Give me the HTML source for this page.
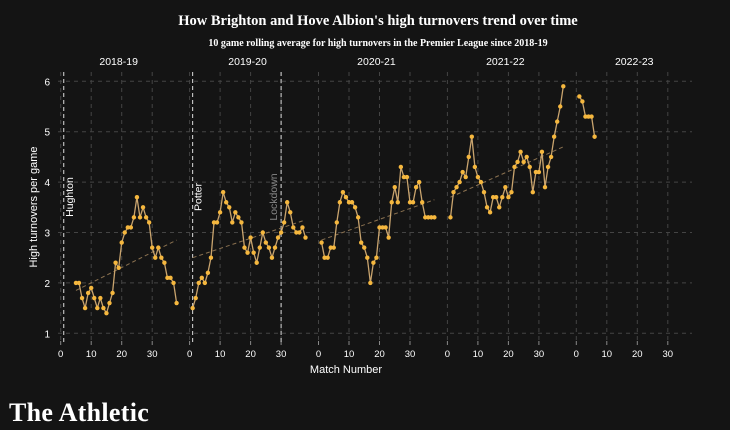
<!DOCTYPE html>
<html><head><meta charset="utf-8">
<style>
html,body{margin:0;padding:0;background:#141414;}
svg{display:block;font-family:"Liberation Sans",sans-serif;}
</style></head>
<body>
<svg id="chart" width="730" height="430" viewBox="0 0 730 430">
<rect width="730" height="430" fill="#141414"/>
<text x="378" y="25" text-anchor="middle" fill="#fff" font-family="Liberation Serif,serif" font-weight="bold" font-size="14.5">How Brighton and Hove Albion's high turnovers trend over time</text>
<text x="378" y="46" text-anchor="middle" fill="#fff" font-family="Liberation Serif,serif" font-weight="bold" font-size="10">10 game rolling average for high turnovers in the Premier League since 2018-19</text>
<text x="37" y="207" transform="rotate(-90 37 207)" text-anchor="middle" fill="#fff" font-size="11">High turnovers per game</text>
<text x="346" y="373" text-anchor="middle" fill="#fff" font-size="11">Match Number</text>
<text x="9" y="421" fill="#fff" font-family="Liberation Serif,serif" font-weight="bold" font-size="26" letter-spacing="0.3">The Athletic</text>
<g id="plot"></g>
</svg>
<script>
const seasons = ["2018-19","2019-20","2020-21","2021-22","2022-23"];
const startMatch = [5, 1, 1, 1, 1];
const s1 = [2.0,2.0,1.7,1.5,1.8,1.9,1.7,1.5,1.7,1.5,1.4,1.6,1.8,2.4,2.3,2.8,3.0,3.1,3.1,3.3,3.7,3.3,3.5,3.3,3.2,2.7,2.5,2.7,2.5,2.4,2.1,2.1,2.0,1.6];
const s2 = [1.5,1.7,2.0,2.1,2.0,2.2,2.5,3.2,3.2,3.4,3.8,3.6,3.5,3.2,3.4,3.3,3.2,2.7,2.6,2.9,2.6,2.4,2.7,3.0,2.8,2.7,2.5,2.7,2.9,3.0,3.2,3.6,3.4,3.1,3.0,3.0,3.1,2.9];
const s3 = [2.8,2.5,2.5,2.7,2.7,3.2,3.6,3.8,3.7,3.6,3.6,3.5,3.3,2.8,2.7,2.5,2.0,2.4,2.5,3.1,3.1,3.1,2.9,3.6,3.9,3.6,4.3,4.1,4.1,3.6,3.6,3.9,4.0,3.6,3.3,3.3,3.3,3.3];
const s4 = [3.3,3.8,3.9,4.0,4.2,4.1,4.5,4.9,4.3,4.1,4.0,3.8,3.5,3.4,3.7,3.7,3.5,3.7,3.9,3.7,3.8,4.3,4.4,4.6,4.4,4.5,4.3,3.8,4.2,4.2,4.6,3.9,4.3,4.5,4.9,5.2,5.5,5.9];
const s5 = [5.7,5.6,5.3,5.3,5.3,4.9];
const trendStart = [1.85, 2.5, 2.85, 3.7];
const trendEnd = [2.85, 3.25, 3.65, 4.7];
const yTicks = [1,2,3,4,5,6];
const xTicks = [0,10,20,30];
const markers = [{season:0, match:1, label:"Hughton"},{season:1, match:1, label:"Potter"},{season:1, match:30, label:"Lockdown"}];

const series = [s1,s2,s3,s4,s5];
const NS = "http://www.w3.org/2000/svg";
const g = document.getElementById("plot");
const panelX0 = 60.7, panelW = 128.9, pxPerMatch = 3.05;
const x = (p, m) => panelX0 + p*panelW + m*pxPerMatch;
const y = v => 333.3 - (v-1)*50.4;
function mk(tag, attrs){const e=document.createElementNS(NS,tag);for(const k in attrs)e.setAttribute(k,attrs[k]);g.appendChild(e);return e;}

yTicks.forEach(v=>{
  const l=mk("line",{x1:58,x2:692,y1:y(v),y2:y(v),stroke:"#444","stroke-dasharray":"4 4","stroke-width":1});
  
  
  const t=mk("text",{x:50,y:y(v)+4,"text-anchor":"end",fill:"#fff","font-size":10});
  t.textContent=v;
  
  
});
seasons.forEach((s,p)=>{
  const st=mk("text",{x:x(p,19),y:65,"text-anchor":"middle",fill:"#fff","font-size":10.5});
  st.textContent=s;
  
  
  xTicks.forEach(m=>{
    const l=mk("line",{x1:x(p,m),x2:x(p,m),y1:72,y2:344,stroke:"#444","stroke-dasharray":"4 4","stroke-width":1});
    
    
    const tk=mk("line",{x1:x(p,m),x2:x(p,m),y1:341,y2:345,stroke:"#888"});
    
    
    const t=mk("text",{x:x(p,m),y:357,"text-anchor":"middle",fill:"#fff","font-size":9.5});
    t.textContent=m;
    
    
  });
});
markers.forEach(mr=>{
  const mx=x(mr.season,mr.match);
  const grey=mr.label==="Lockdown";
  const l=mk("line",{x1:mx,x2:mx,y1:72,y2:344,stroke:"#ddd","stroke-dasharray":"4 3","stroke-width":1});
  
  
  const tx=grey?mx-4:mx+9;
  const t=mk("text",{x:tx,y:197,transform:`rotate(-90 ${tx} 197)`,"text-anchor":"middle",fill:grey?"#888":"#fff","font-size":10.5});
  t.textContent=mr.label;
  
  
});
trendStart.forEach((v,p)=>{
  const n=series[p].length, m0=startMatch[p], m1=m0+n-1;
  const l=mk("line",{x1:x(p,m0),y1:y(v),x2:x(p,m1),y2:y(trendEnd[p]),stroke:"#8a7150","stroke-dasharray":"4 3","stroke-width":1});
  
  
});
series.forEach((d,p)=>{
  const pts=d.map((v,i)=>x(p,startMatch[p]+i).toFixed(1)+","+y(v).toFixed(1)).join(" ");
  const pl=mk("polyline",{points:pts,fill:"none",stroke:"#c9a46e","stroke-width":1.3});
  
  
  d.forEach((v,i)=>{
    const c=mk("circle",{cx:x(p,startMatch[p]+i),cy:y(v),r:2.2,fill:"#f5b73e"});
    
    
  });
});
</script>
</body></html>
